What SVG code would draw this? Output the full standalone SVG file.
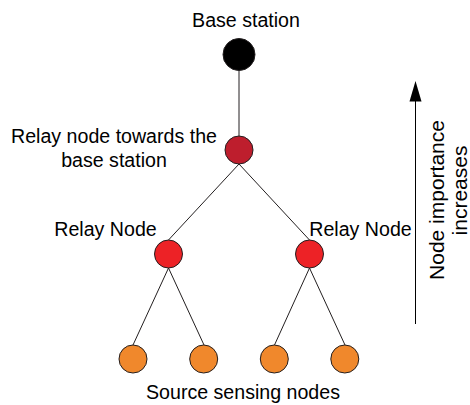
<svg xmlns="http://www.w3.org/2000/svg" width="470" height="405" viewBox="0 0 470 405">
<style>
text{font-family:"Liberation Sans",Arial,sans-serif;font-size:19.6px;fill:#000}
.n{stroke:#231f20;stroke-width:1}
.c line{stroke:#231f20;stroke-width:1}
.rot{font-size:21px}
</style>
<rect width="470" height="405" fill="#fff"/>
<g id="connectors" class="c">
<line x1="239" y1="70" x2="239" y2="136"/>
<line x1="239" y1="164" x2="168.5" y2="240"/>
<line x1="239" y1="164" x2="309.5" y2="240"/>
<line x1="168.5" y1="268" x2="133" y2="345"/>
<line x1="168.5" y1="268" x2="204" y2="345"/>
<line x1="309.5" y1="268" x2="274.5" y2="345"/>
<line x1="309.5" y1="268" x2="345" y2="345"/>
</g>
<g id="base-station">
<circle class="n" cx="239" cy="54.5" r="16" fill="#000"/>
<text x="246" y="27" text-anchor="middle">Base station</text>
</g>
<g id="relay-top">
<circle class="n" cx="239" cy="150" r="14" fill="#be1e2d"/>
<text x="114" y="143" text-anchor="middle">Relay node towards the</text>
<text x="114" y="166.5" text-anchor="middle">base station</text>
</g>
<g id="relay-left">
<circle class="n" cx="168.5" cy="254" r="14" fill="#ed2226"/>
<text x="105.5" y="236" text-anchor="middle">Relay Node</text>
</g>
<g id="relay-right">
<circle class="n" cx="309.5" cy="254" r="14" fill="#ed2226"/>
<text x="360.5" y="236" text-anchor="middle">Relay Node</text>
</g>
<g id="leaf-1"><circle class="n" cx="133" cy="359" r="14" fill="#f0882c"/></g>
<g id="leaf-2"><circle class="n" cx="203.7" cy="359" r="14" fill="#f0882c"/></g>
<g id="leaf-3"><circle class="n" cx="274.3" cy="359" r="14" fill="#f0882c"/></g>
<g id="leaf-4"><circle class="n" cx="344.8" cy="359" r="14" fill="#f0882c"/></g>
<g id="sources-label">
<text x="243" y="399" text-anchor="middle">Source sensing nodes</text>
</g>
<g id="importance-arrow">
<line x1="415.5" y1="324" x2="415.5" y2="98" stroke="#000" stroke-width="1"/>
<polygon points="415.5,81 409.5,101.5 421.5,101.5" fill="#000"/>
<text class="rot" transform="translate(443.5,200) rotate(-90)" text-anchor="middle">Node importance</text>
<text class="rot" transform="translate(466.5,190.5) rotate(-90)" text-anchor="middle">increases</text>
</g>
</svg>
